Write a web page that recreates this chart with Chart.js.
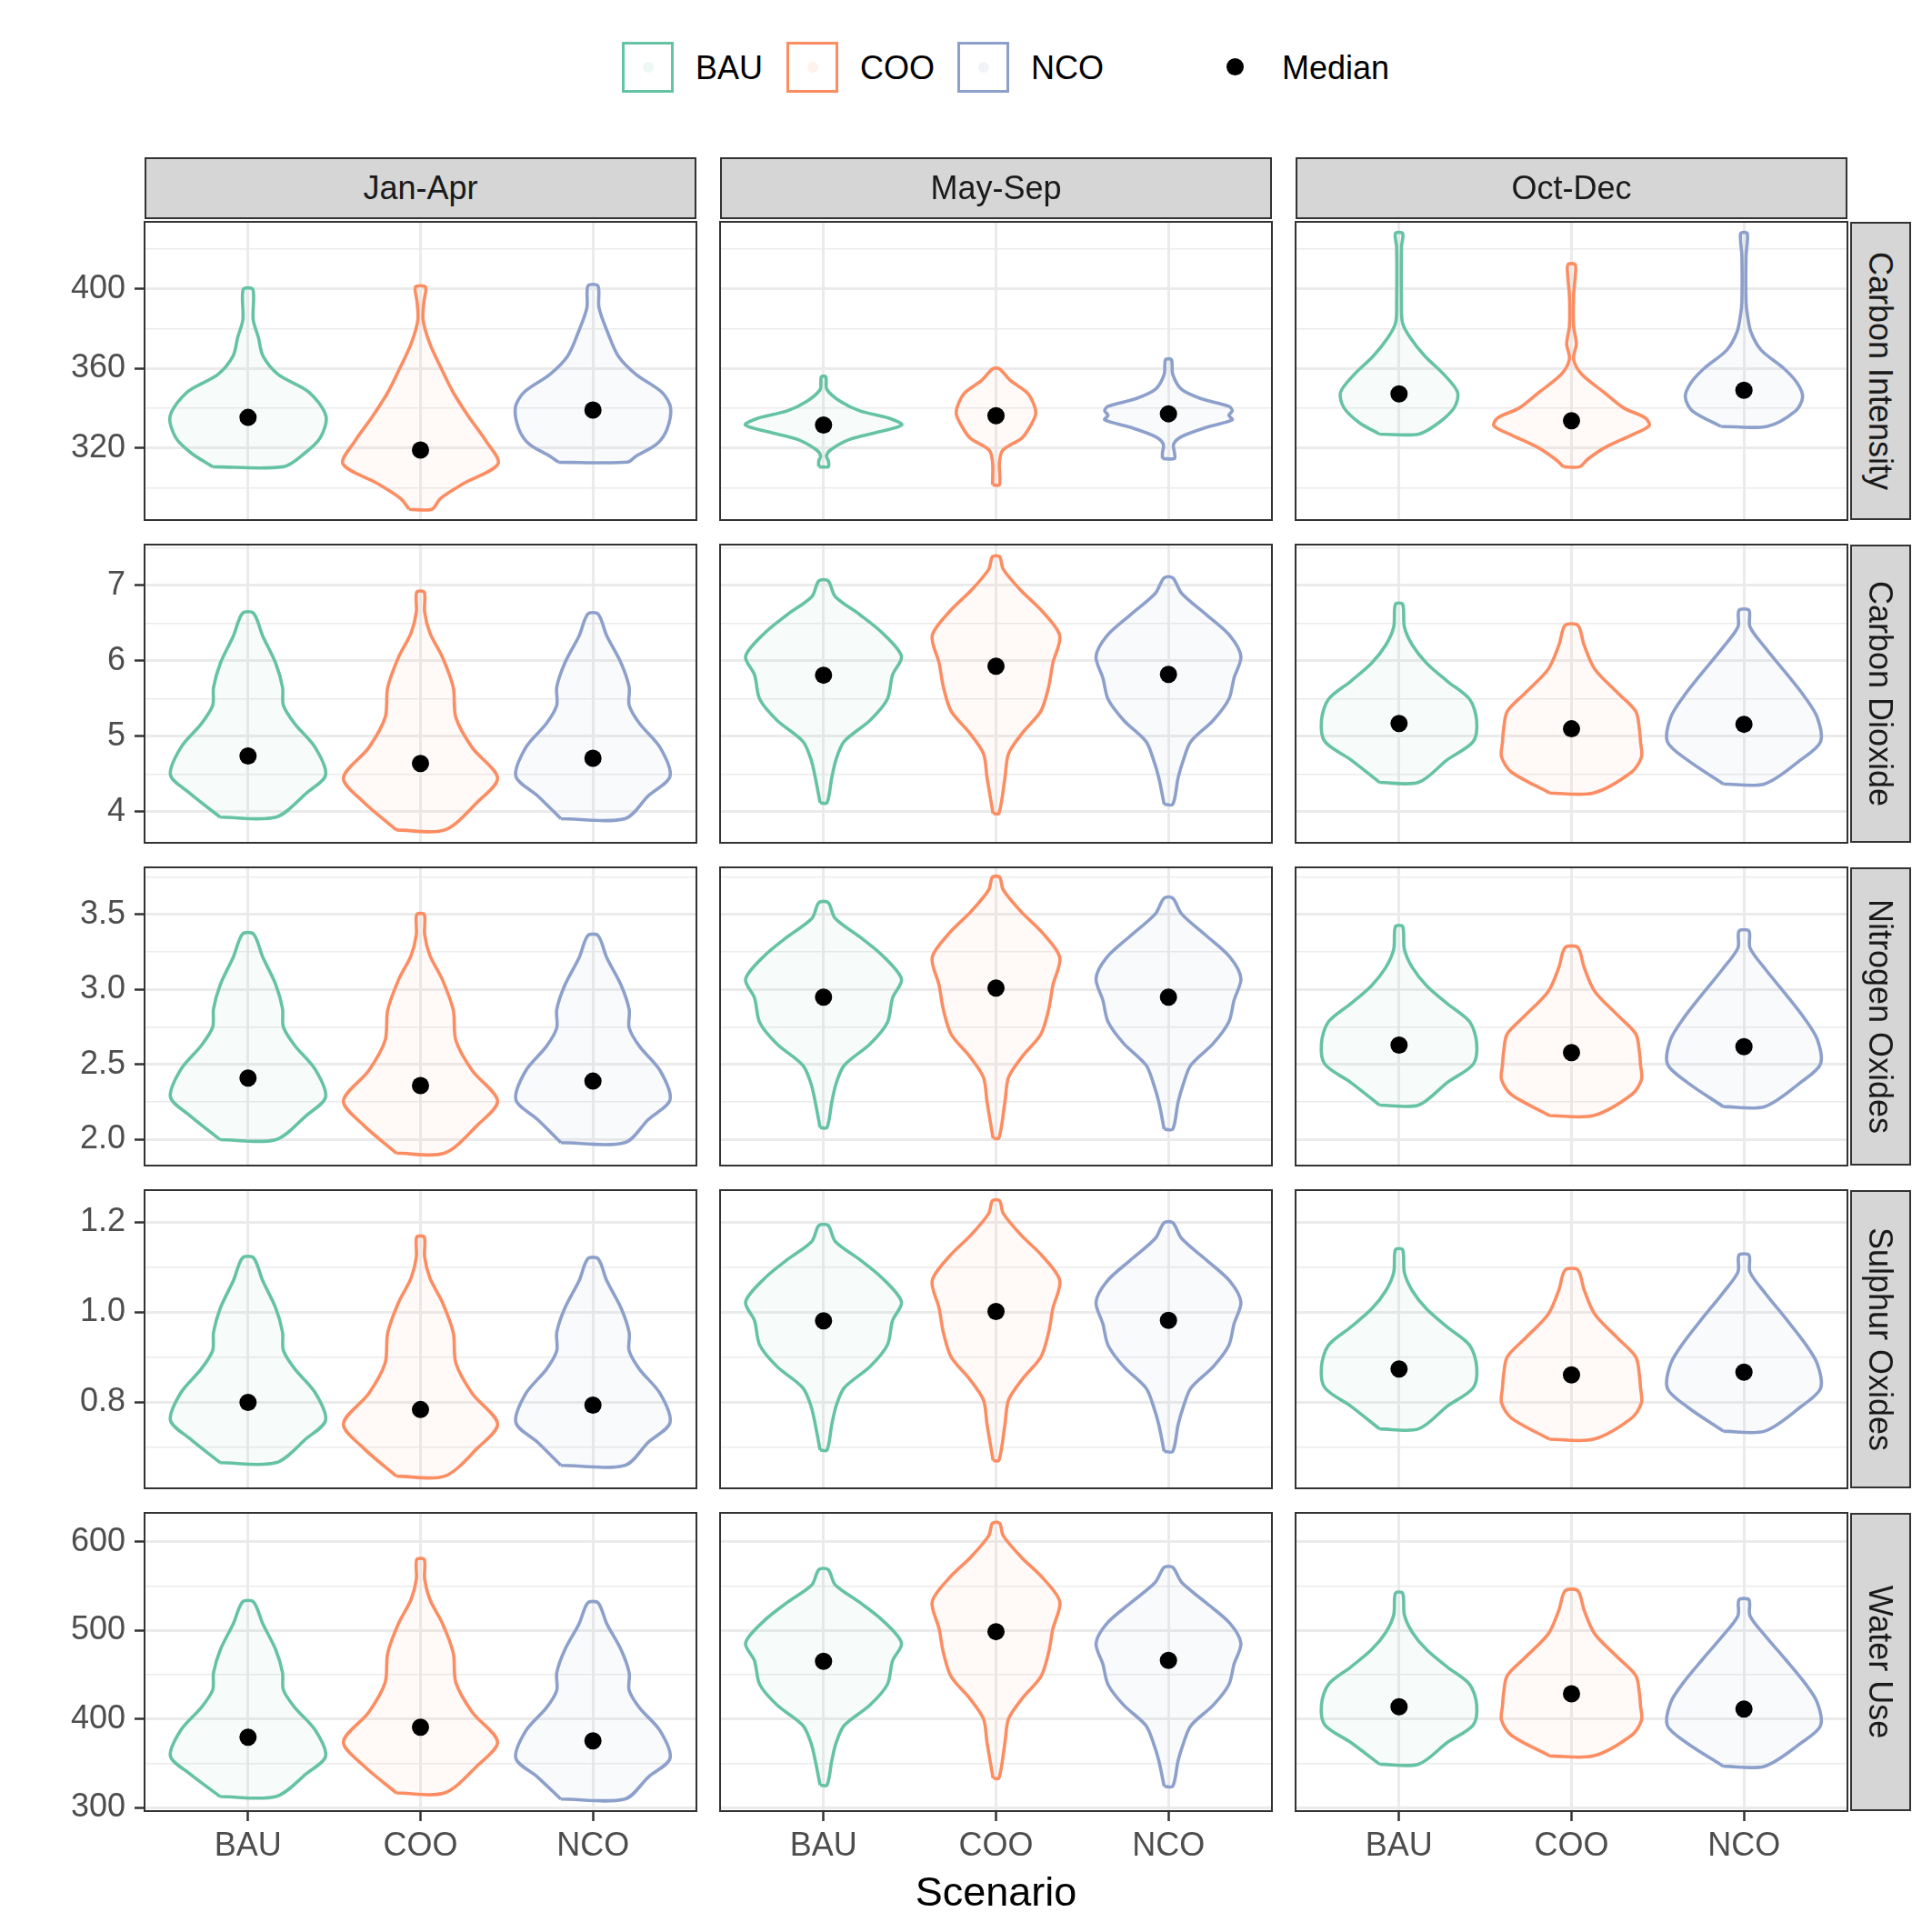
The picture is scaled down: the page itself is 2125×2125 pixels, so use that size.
<!DOCTYPE html>
<html>
<head>
<meta charset="utf-8">
<script src="https://cdn.jsdelivr.net/npm/chart.js@4.4.0/dist/chart.umd.min.js"></script>
<style>
  body { margin: 0; background: #fff; font-family: "Liberation Sans", Arial, sans-serif; }
  #page { position: relative; width: 2125px; height: 2125px; overflow: hidden; background: #fff; }
  canvas { position: absolute; }
  .strip { position: absolute; background: #d6d6d6; border: 2px solid #333; box-sizing: border-box;
           color: #1a1a1a; font-size: 36px; display: flex; align-items: center; justify-content: center; }
  .strip span { white-space: nowrap; }
  .strip.right span { transform: rotate(90deg); }
  .txt { position: absolute; font-size: 36px; color: #000; line-height: 1; white-space: nowrap; }
  .key { position: absolute; width: 57px; height: 56px; box-sizing: border-box; border: 3.5px solid; }
  .key i { position: absolute; left: 50%; top: 50%; width: 12px; height: 12px; margin: -6px 0 0 -6px; border-radius: 50%; }
</style>
</head>
<body>
<div id="page"></div>
<script>
// categorias e facetas
const scenarios = ['BAU', 'COO', 'NCO'];
const periods = ['Jan-Apr', 'May-Sep', 'Oct-Dec'];
const metrics = ['Carbon Intensity', 'Carbon Dioxide', 'Nitrogen Oxides', 'Sulphur Oxides', 'Water Use'];
const scenarioColors = ['#66c2a5', '#fc8d62', '#8da0cb'];

// eixos y (livres por linha)
const yMin = [283.8, 3.59, 1.827, 0.609, 296.1];
const yMax = [433.7, 7.54, 3.815, 1.2715, 632.5];
const yMajorTicks = [[320, 360, 400], [4, 5, 6, 7], [2.0, 2.5, 3.0, 3.5], [0.8, 1.0, 1.2], [300, 400, 500, 600]];
const yMinorTicks = [[300, 340, 380, 420], [4.5, 5.5, 6.5, 7.5], [2.25, 2.75, 3.25, 3.75], [0.7, 0.9, 1.1], [350, 450, 550]];
const yDecimals = [0, 0, 1, 1, 0];

// medianas [periodo][cenario]
const medCarbonIntensity = [[335.4, 319.0, 339.1], [331.6, 336.2, 337.2], [347.2, 333.7, 349.0]];
const medCarbonDioxide = [[4.74, 4.64, 4.71], [5.81, 5.93, 5.82], [5.17, 5.10, 5.16]];
const medNitrogenOxides = [[2.41, 2.36, 2.39], [2.95, 3.01, 2.95], [2.63, 2.58, 2.62]];
const medSulphurOxides = [[0.800, 0.784, 0.794], [0.981, 1.002, 0.982], [0.874, 0.861, 0.867]];
const medWaterUse = [[379.5, 390.8, 375.4], [465.0, 498.5, 466.0], [413.7, 428.4, 411.3]];

// perfis dos violinos da intensidade de carbono: [valor, meia largura]
const ciJanApr = [
  [[310.6, 0.205], [317.5, 0.33], [325.3, 0.42], [336, 0.452], [348, 0.355], [357, 0.175], [366.2, 0.087], [375.6, 0.06], [384.5, 0.03], [399.7, 0.028]],
  [[289.2, 0.066], [294.6, 0.115], [302.2, 0.25], [312.1, 0.45], [323.5, 0.38], [335.7, 0.28], [347.9, 0.19], [360.1, 0.12], [372.3, 0.055], [384.5, 0.015], [393.6, 0.02], [400.9, 0.029]],
  [[312.9, 0.2], [315.9, 0.25], [322, 0.37], [329.6, 0.43], [340.3, 0.45], [348, 0.4], [357, 0.25], [366.2, 0.147], [378.4, 0.084], [390.6, 0.035], [401.5, 0.029]]
];
const ciMaySep = [
  [[310.6, 0.028], [313.5, 0.028], [316, 0.017], [319, 0.04], [324.3, 0.15], [328.1, 0.32], [331.6, 0.454], [335, 0.38], [338.7, 0.21], [343.3, 0.1], [349.4, 0.02], [355.8, 0.013]],
  [[301.5, 0.02], [312.9, 0.02], [319, 0.04], [325, 0.15], [331.2, 0.2], [336.9, 0.23], [341.8, 0.22], [347.9, 0.18], [354, 0.083], [359.8, 0.02]],
  [[314.7, 0.035], [317.5, 0.035], [322, 0.03], [325.8, 0.077], [330.4, 0.22], [334.2, 0.37], [336.5, 0.35], [338.7, 0.37], [341, 0.35], [344.8, 0.19], [349.4, 0.077], [357, 0.025], [364.4, 0.017]]
];
const ciOctDec = [
  [[327, 0.114], [332.7, 0.23], [340.3, 0.32], [347.9, 0.34], [357, 0.26], [366.2, 0.15], [375.3, 0.066], [382.9, 0.02], [393.6, 0.014], [421, 0.014], [427.9, 0.021]],
  [[310.6, 0.047], [314.4, 0.094], [320.5, 0.2], [326.6, 0.35], [331.2, 0.45], [335, 0.43], [340.3, 0.3], [347.9, 0.19], [357, 0.06], [364.7, 0.012], [372.3, 0.028], [381.4, 0.012], [396.7, 0.012], [405.8, 0.021], [412.2, 0.021]],
  [[330.9, 0.135], [338.7, 0.3], [345.6, 0.34], [352.5, 0.31], [360.1, 0.23], [369.2, 0.1], [378.4, 0.04], [387.5, 0.019], [393.6, 0.012], [416.5, 0.012], [427.9, 0.019]]
];

// formas dos violinos das emissoes: [fracao da altura, meia largura]
const shapeJanApr = [
  [[0, 0.162], [0.119, 0.34], [0.207, 0.45], [0.341, 0.39], [0.459, 0.27], [0.548, 0.205], [0.637, 0.2], [0.756, 0.16], [0.889, 0.085], [1, 0.032]],
  [[0, 0.14], [0.117, 0.33], [0.219, 0.447], [0.346, 0.3], [0.473, 0.205], [0.6, 0.19], [0.727, 0.127], [0.828, 0.055], [0.917, 0.024], [1, 0.022]],
  [[0, 0.186], [0.111, 0.32], [0.207, 0.447], [0.347, 0.39], [0.465, 0.27], [0.554, 0.21], [0.643, 0.21], [0.761, 0.163], [0.894, 0.08], [1, 0.03]]
];
const shapeMaySep = [
  [[0, 0.02], [0.114, 0.048], [0.196, 0.073], [0.277, 0.12], [0.372, 0.27], [0.467, 0.37], [0.576, 0.4], [0.66, 0.452], [0.766, 0.34], [0.848, 0.21], [0.929, 0.068], [1, 0.027]],
  [[0, 0.017], [0.139, 0.052], [0.233, 0.073], [0.315, 0.155], [0.398, 0.26], [0.492, 0.305], [0.586, 0.33], [0.692, 0.37], [0.786, 0.27], [0.868, 0.145], [0.951, 0.042], [1, 0.021]],
  [[0, 0.025], [0.117, 0.056], [0.197, 0.087], [0.277, 0.13], [0.371, 0.26], [0.464, 0.35], [0.557, 0.38], [0.653, 0.42], [0.744, 0.357], [0.837, 0.22], [0.931, 0.077], [1, 0.025]]
];
const shapeOctDec = [
  [[0, 0.113], [0.127, 0.28], [0.229, 0.43], [0.347, 0.45], [0.466, 0.41], [0.568, 0.28], [0.669, 0.16], [0.771, 0.077], [0.873, 0.031], [1, 0.021]],
  [[0, 0.127], [0.126, 0.35], [0.216, 0.406], [0.306, 0.4], [0.378, 0.394], [0.486, 0.373], [0.595, 0.27], [0.739, 0.135], [0.883, 0.073], [1, 0.037]],
  [[0, 0.12], [0.139, 0.33], [0.243, 0.444], [0.383, 0.425], [0.504, 0.35], [0.643, 0.24], [0.783, 0.124], [0.904, 0.035], [1, 0.029]]
];

// minimo e maximo de cada violino das emissoes [periodo][cenario]
const rangeCarbonDioxide = [[[3.93, 6.63], [3.76, 6.91], [3.91, 6.62]], [[4.12, 7.06], [3.98, 7.38], [4.10, 7.10]], [[4.39, 6.75], [4.25, 6.47], [4.37, 6.67]]];
const rangeNitrogenOxides = [[[2.00, 3.37], [1.91, 3.50], [1.98, 3.36]], [[2.08, 3.58], [2.01, 3.75], [2.07, 3.61]], [[2.23, 3.42], [2.16, 3.28], [2.22, 3.39]]];
const rangeSulphurOxides = [[[0.666, 1.121], [0.636, 1.167], [0.660, 1.119]], [[0.694, 1.193], [0.671, 1.248], [0.691, 1.199]], [[0.741, 1.139], [0.718, 1.094], [0.736, 1.127]]];
const rangeWaterUse = [[[312.5, 532.0], [316.6, 579.8], [309.7, 531.0]], [[325.4, 568.5], [333.3, 620.8], [324.1, 571.0]], [[349.0, 541.9], [358.3, 544.6], [346.7, 534.4]]];

const medians = [medCarbonIntensity, medCarbonDioxide, medNitrogenOxides, medSulphurOxides, medWaterUse];
const ranges = [null, rangeCarbonDioxide, rangeNitrogenOxides, rangeSulphurOxides, rangeWaterUse];
const ciProfiles = [ciJanApr, ciMaySep, ciOctDec];
const shapes = [shapeJanApr, shapeMaySep, shapeOctDec];

// posicoes dos paineis
const colLeft = [159, 792, 1425];
const rowTop = [244, 599, 954, 1309, 1664];
const panelW = 607, panelH = 328;
const padL = 110, padT = 12, padR = 12, padB = 100;

const page = document.getElementById('page');

function addDiv(cls, css, html) {
  const d = document.createElement('div');
  d.className = cls;
  Object.assign(d.style, css);
  if (html !== undefined) d.innerHTML = html;
  page.appendChild(d);
  return d;
}

function hexAlpha(hex, a) {
  const n = parseInt(hex.slice(1), 16);
  return `rgba(${(n >> 16) & 255},${(n >> 8) & 255},${n & 255},${a})`;
}

// contorno fechado do violino
function violinOutline(center, prof) {
  const left = prof.map(([y, w]) => ({ x: center - w, y: y }));
  const right = prof.slice().reverse().map(([y, w]) => ({ x: center + w, y: y }));
  return left.concat(right, [left[0]]);
}

// sem folga extra das etiquetas: a area do grafico fica igual em todos os paineis
function noPadding(ax) {
  ax.paddingTop = 0; ax.paddingBottom = 0; ax.paddingLeft = 0; ax.paddingRight = 0;
}

const panelBorder = {
  id: 'panelBorder',
  afterDraw(chart) {
    const a = chart.chartArea, ctx = chart.ctx;
    ctx.save();
    ctx.strokeStyle = '#333333';
    ctx.lineWidth = 2;
    ctx.strokeRect(a.left, a.top, a.right - a.left, a.bottom - a.top);
    ctx.restore();
  }
};

metrics.forEach((metric, m) => {
  periods.forEach((period, p) => {
    const isLeft = p === 0, isBottom = m === metrics.length - 1;
    const datasets = [];

    // medianas por cima
    datasets.push({
      data: scenarios.map((s, i) => ({ x: i + 1, y: medians[m][p][i] })),
      pointRadius: 9.5, pointBackgroundColor: '#000', pointBorderWidth: 0,
      showLine: false, order: 0
    });

    scenarios.forEach((s, i) => {
      let prof;
      if (m === 0) {
        prof = ciProfiles[p][i];
      } else {
        const [lo, hi] = ranges[m][p][i];
        prof = shapes[p][i].map(([t, w]) => [lo + t * (hi - lo), w]);
      }
      datasets.push({
        data: violinOutline(i + 1, prof),
        showLine: true, pointRadius: 0, borderColor: scenarioColors[i], borderWidth: 3.6,
        backgroundColor: hexAlpha(scenarioColors[i], 0.05), fill: 'shape',
        tension: 0.3, order: 1
      });
    });

    const majors = yMajorTicks[m];
    const isMajor = v => majors.some(t => Math.abs(t - v) < 1e-9);

    const canvas = document.createElement('canvas');
    const cw = padL + panelW + padR, ch = padT + panelH + padB;
    canvas.width = cw; canvas.height = ch;
    canvas.style.left = (colLeft[p] - padL) + 'px';
    canvas.style.top = (rowTop[m] - padT) + 'px';
    page.appendChild(canvas);

    new Chart(canvas, {
      type: 'scatter',
      data: { datasets: datasets },
      options: {
        responsive: false, animation: false, devicePixelRatio: 1,
        layout: { padding: { left: 0, top: padT, right: padR, bottom: 0 }, autoPadding: false },
        plugins: { legend: { display: false }, tooltip: { enabled: false } },
        scales: {
          x: {
            min: 0.4, max: 3.6,
            afterBuildTicks: ax => { ax.ticks = [1, 2, 3].map(v => ({ value: v })); },
            afterFit: ax => { ax.height = padB; noPadding(ax); },
            border: { display: false },
            grid: { color: '#ebebeb', lineWidth: 3, drawTicks: isBottom, tickLength: 11, tickColor: '#333333', tickWidth: 2.5 },
            ticks: {
              display: isBottom, autoSkip: false, maxRotation: 0, padding: 6,
              color: '#4d4d4d', font: { size: 36, family: '"Liberation Sans", Arial, sans-serif' },
              callback: v => scenarios[v - 1]
            }
          },
          y: {
            min: yMin[m], max: yMax[m],
            afterBuildTicks: ax => {
              ax.ticks = majors.concat(yMinorTicks[m]).sort((a, b) => a - b).map(v => ({ value: v }));
            },
            afterFit: ax => { ax.width = padL; noPadding(ax); },
            border: { display: false },
            grid: {
              color: '#ebebeb',
              lineWidth: c => isMajor(c.tick.value) ? 3 : 1.5,
              drawTicks: isLeft, tickLength: 11, tickWidth: 2.5,
              tickColor: c => isMajor(c.tick.value) ? '#333333' : 'rgba(0,0,0,0)'
            },
            ticks: {
              display: isLeft, autoSkip: false, padding: 10,
              color: '#4d4d4d', font: { size: 36, family: '"Liberation Sans", Arial, sans-serif' },
              callback: v => isMajor(v) ? v.toFixed(yDecimals[m]) : ''
            }
          }
        }
      },
      plugins: [panelBorder]
    });
  });
});

// faixas das facetas
periods.forEach((period, p) => {
  addDiv('strip', { left: colLeft[p] + 'px', top: '173px', width: panelW + 'px', height: '68px' }, '<span>' + period + '</span>');
});
metrics.forEach((metric, m) => {
  addDiv('strip right', { left: '2035px', top: rowTop[m] + 'px', width: '67px', height: panelH + 'px' }, '<span>' + metric + '</span>');
});

// titulo do eixo x
addDiv('txt', { left: '0px', width: (colLeft[1] * 2 + panelW) + 'px', top: '2058px', fontSize: '45px', textAlign: 'center' }, 'Scenario');

// legenda
const keyLeft = [684, 865, 1053];
scenarios.forEach((s, i) => {
  const k = addDiv('key', { left: keyLeft[i] + 'px', top: '46px', borderColor: scenarioColors[i] }, '<i></i>');
  k.firstChild.style.background = hexAlpha(scenarioColors[i], 0.12);
  addDiv('txt', { left: (keyLeft[i] + 81) + 'px', top: '57px' }, s);
});
addDiv('txt', { left: '1349px', top: '64px', width: '19px', height: '19px', borderRadius: '50%', background: '#000' });
addDiv('txt', { left: '1410px', top: '57px' }, 'Median');
</script>
</body>
</html>
